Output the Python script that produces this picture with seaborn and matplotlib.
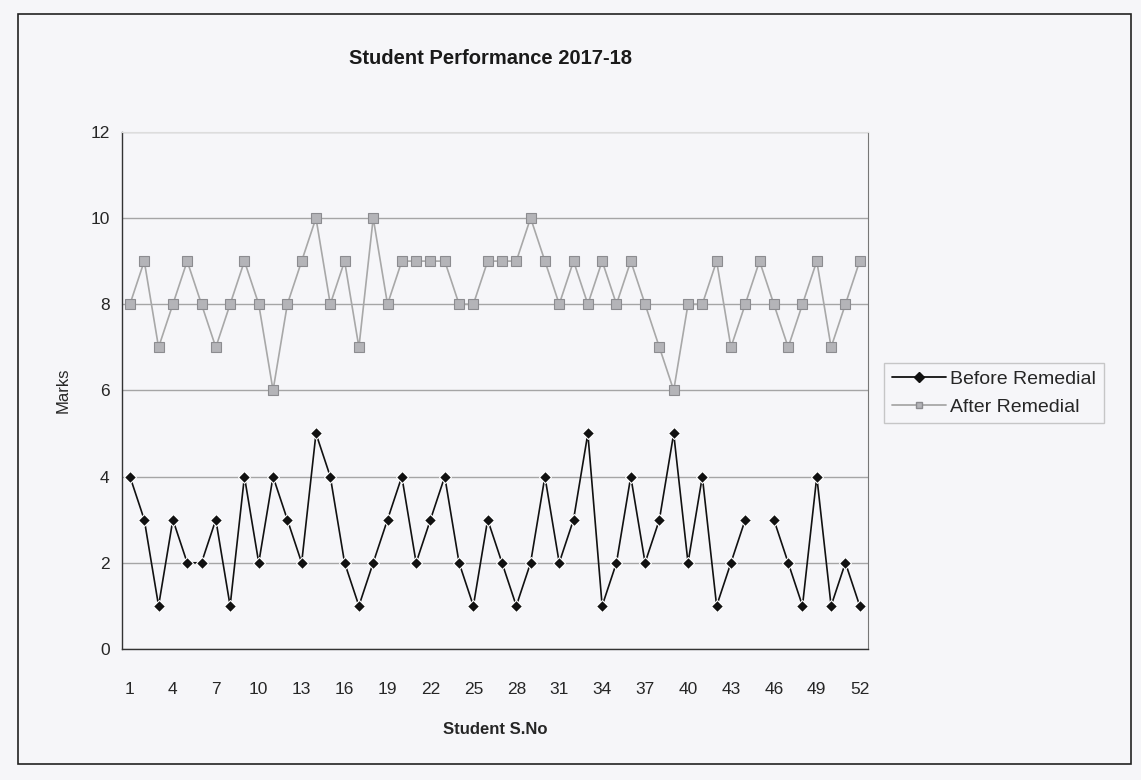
import numpy as np
import pandas as pd
import matplotlib
matplotlib.use("Agg")
import matplotlib.pyplot as plt
import seaborn as sns
from matplotlib.patches import Rectangle

students = list(range(1, 53))

before_remedial = [4, 3, 1, 3, 2, 2, 3, 1, 4, 2,
                   4, 3, 2, 5, 4, 2, 1, 2, 3, 4,
                   2, 3, 4, 2, 1, 3, 2, 1, 2, 4,
                   2, 3, 5, 1, 2, 4, 2, 3, 5, 2,
                   4, 1, 2, 3, np.nan, 3, 2, 1, 4, 1,
                   2, 1]

after_remedial = [8, 9, 7, 8, 9, 8, 7, 8, 9, 8,
                  6, 8, 9, 10, 8, 9, 7, 10, 8, 9,
                  9, 9, 9, 8, 8, 9, 9, 9, 10, 9,
                  8, 9, 8, 9, 8, 9, 8, 7, 6, 8,
                  8, 9, 7, 8, 9, 8, 7, 8, 9, 7,
                  8, 9]

series_names = ["Before Remedial", "After Remedial"]
tick_labels = list(range(1, 53, 3))

# long table; a missing value starts a new segment so the line breaks there
rows = []
for name, vals in zip(series_names, [before_remedial, after_remedial]):
    seg = 0
    for s, v in zip(students, vals):
        if pd.isna(v):
            seg += 1
            continue
        rows.append({"Student": s, "Marks": v, "Series": name, "Segment": f"{name}-{seg}"})
df = pd.DataFrame(rows)

sns.set_style("white")
plt.rcParams["font.family"] = ["Liberation Sans", "DejaVu Sans"]

bg = "#f6f6f9"
fig = plt.figure(figsize=(11.41, 7.80), dpi=100, facecolor=bg)
ax = fig.add_axes([0.107, 0.168, 0.654, 0.663], facecolor=bg)

palette = {"Before Remedial": "#111111", "After Remedial": "#a8a8a8"}
markers = {"Before Remedial": "D", "After Remedial": "s"}

sns.lineplot(
    data=df, x="Student", y="Marks",
    hue="Series", style="Series", units="Segment", estimator=None,
    palette=palette, markers=markers, dashes=False,
    hue_order=series_names, style_order=series_names,
    linewidth=1.2, markersize=7, markeredgewidth=0.8,
    ax=ax, legend=False,
)
for line in ax.lines:
    if line.get_color() == "#a8a8a8":
        line.set_markerfacecolor("#b4b4b8")
        line.set_markeredgecolor("#8c8c90")
    else:
        line.set_markersize(6)

ax.set_xlim(0.45, 52.6)
ax.set_ylim(0, 12)
ax.set_yticks(range(0, 13, 2))
ax.set_xticks(tick_labels)
ax.set_xticklabels([str(t) for t in tick_labels])
ax.yaxis.grid(True, color="#555555", linewidth=1.0, alpha=0.5)
ax.tick_params(axis="both", labelsize=12.5, length=4, color="#444444", direction="out")
ax.tick_params(axis="y", left=False, pad=5)
ax.tick_params(axis="x", bottom=False, pad=20)

for side in ["left", "bottom"]:
    ax.spines[side].set_color("#333333")
    ax.spines[side].set_linewidth(1.0)
ax.spines["right"].set_color("#777777")
ax.spines["top"].set_color("#dddddd")

ax.set_xlabel("Student S.No", fontsize=12, fontweight="bold", labelpad=18)
ax.set_ylabel("Marks", fontsize=12, labelpad=14)
fig.text(0.43, 0.925, "Student Performance 2017-18", ha="center", va="center",
         fontsize=14.5, fontweight="bold", color="#1a1a1a")

# legend built from the drawn lines
handles = [
    plt.Line2D([], [], color="#111111", marker="D", markersize=5, linewidth=1.3),
    plt.Line2D([], [], color="#a8a8a8", marker="s", markersize=5, linewidth=1.3,
               markerfacecolor="#b4b4b8", markeredgecolor="#8c8c90"),
]
leg = fig.legend(handles, series_names, loc="center left",
                 bbox_to_anchor=(0.775, 0.496), fontsize=14,
                 frameon=True, fancybox=False, edgecolor="#bbbbbb",
                 facecolor=bg, handlelength=2.8, borderpad=0.4,
                 labelspacing=0.5, handletextpad=0.2, borderaxespad=0.0)

# outer chart border
fig.patches.append(Rectangle((0.016, 0.02), 0.975, 0.962, transform=fig.transFigure,
                             fill=False, edgecolor="#222222", linewidth=1.2))

fig.savefig("out.png", dpi=100, facecolor=bg)
